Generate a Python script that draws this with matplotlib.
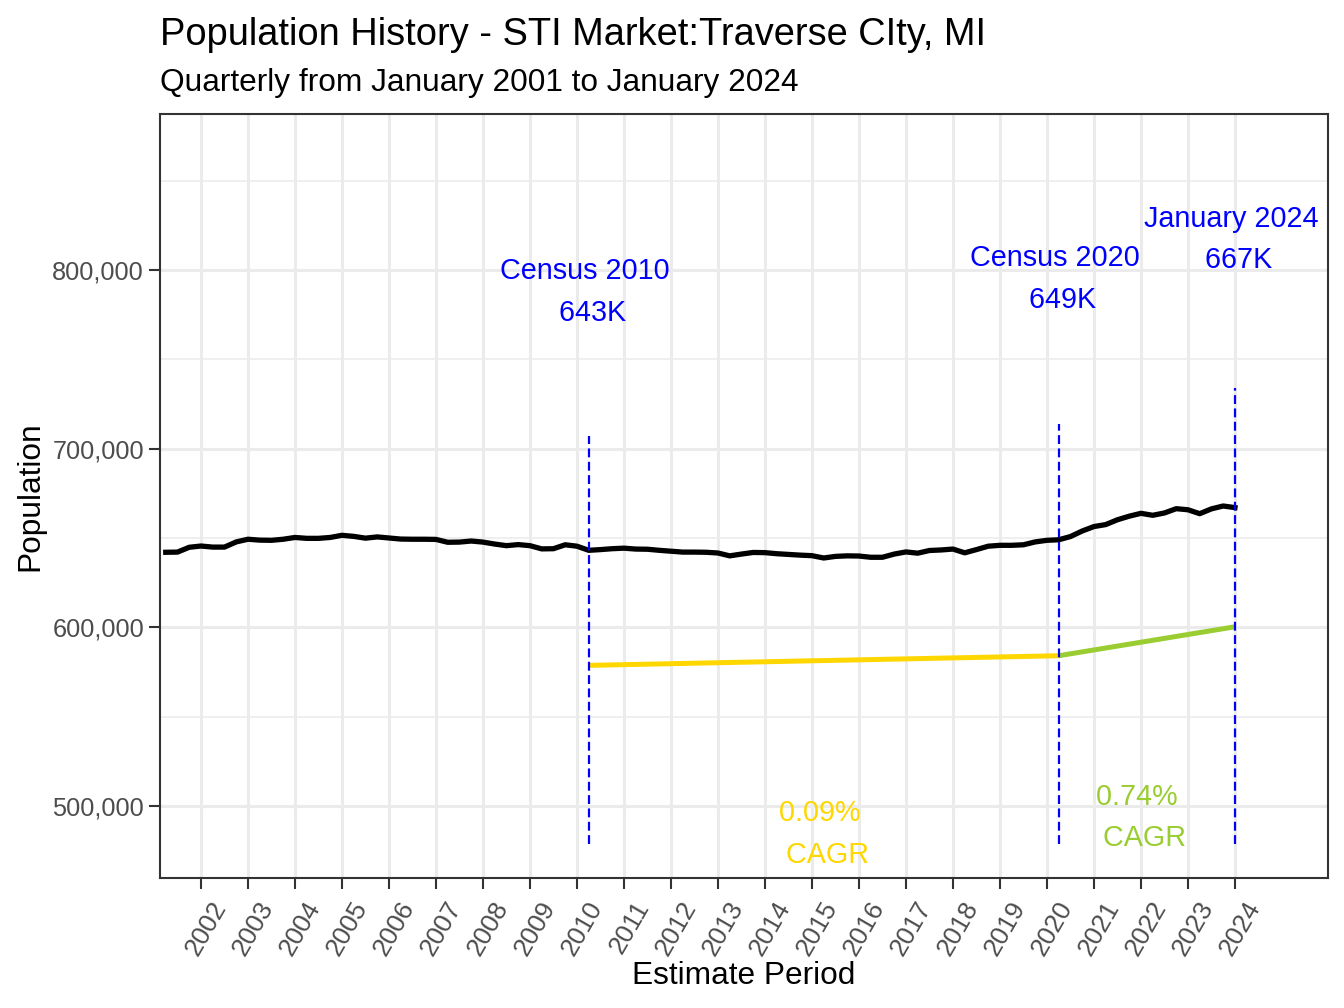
import numpy as np
import pandas as pd
import matplotlib
matplotlib.use("Agg")
import matplotlib.pyplot as plt
import matplotlib.transforms as mtransforms
from matplotlib import ticker

plt.rcParams['font.family'] = ['Liberation Sans', 'DejaVu Sans']

# quarterly estimates, 2001 Q2 .. 2024 Q1
quarters = pd.period_range("2001Q2", "2024Q1", freq="Q")
population = [
    642000, 642100, 644800,
    645500, 644900, 644900, 647800,
    649300, 648800, 648700, 649300,
    650300, 649800, 649800, 650300,
    651500, 650900, 649900, 650600,
    650000, 649400, 649300, 649300,
    649200, 647600, 647700, 648300,
    647700, 646600, 645700, 646300,
    645700, 643900, 644000, 646200,
    645400, 643100, 643500, 644000,
    644300, 643800, 643700, 643100,
    642600, 642100, 642100, 642000,
    641600, 640000, 641000, 641900,
    641800, 641200, 640800, 640400,
    640100, 638800, 639700, 640000,
    639900, 639200, 639200, 641000,
    642200, 641500, 643000, 643300,
    643800, 641700, 643500, 645400,
    645900, 645900, 646200, 647800,
    648700, 649000, 650800, 653900,
    656400, 657500, 660200, 662200,
    663800, 662700, 664000, 666400,
    665800, 663600, 666300, 667900,
    667000,
]
x = quarters.year + (quarters.quarter - 1) / 4

# census / latest reference points
census_x = [2010.25, 2020.25, 2024.0]
census_pop = [643000, 649000, 667000]
census_names = ["Census 2010", "Census 2020", "January 2024"]
census_short = ["643K", "649K", "667K"]
cagr_labels = ["0.09%", "0.74%"]
cagr_x = [2015.25, 2022.0]
cagr_colors = ["gold", "yellowgreen"]

fig = plt.figure(figsize=(13.44, 10.08), dpi=100)
ax = fig.add_axes([160 / 1344, 130 / 1008, 1168 / 1344, 764 / 1008])

ax.plot(x, population, color="black", lw=3.8, zorder=3)

# CAGR segments drawn at 90% of the reference values
for i in range(2):
    xs = census_x[i:i + 2]
    ys = [0.9 * p for p in census_pop[i:i + 2]]
    ax.plot(xs, ys, color=cagr_colors[i], lw=3.6, solid_capstyle="butt", zorder=3)
    ax.text(cagr_x[i], 0.75 * np.mean(census_pop[i:i + 2]),
            f"{cagr_labels[i]} \n CAGR", color=cagr_colors[i],
            ha="center", va="center", fontsize=20.7, linespacing=1.62)

for cx, cp, name, short in zip(census_x, census_pop, census_names, census_short):
    ax.plot([cx, cx], [479000, 1.1 * cp], color="blue", lw=1.6,
            dashes=(4, 2), zorder=4)
    ax.text(cx, 1.225 * cp, f"{name} \n {short}", color="blue",
            ha="center", va="center", fontsize=20.7, linespacing=1.62)

ax.set_xlim(2001.128, 2025.98)
ax.set_ylim(459700, 887300)
ax.set_xticks(range(2002, 2025))
ax.set_yticks([500000, 600000, 700000, 800000])
ax.set_yticks([550000, 650000, 750000, 850000], minor=True)
ax.yaxis.set_major_formatter(ticker.FuncFormatter(lambda v, pos: f"{int(v):,}"))

ax.grid(which="major", color="#EBEBEB", lw=2.2, zorder=0)
ax.grid(which="minor", axis="y", color="#EBEBEB", lw=1.1, zorder=0)
ax.set_axisbelow(True)
ax.tick_params(axis="both", which="major", length=8, width=1.5, color="#333333",
               labelcolor="#4D4D4D", labelsize=18.8)
ax.tick_params(axis="y", which="major", labelsize=18.3)
ax.tick_params(axis="y", which="minor", length=0)
for s in ax.spines.values():
    s.set_color("#333333")
    s.set_linewidth(1.5)

ax.set_xticklabels([str(y) for y in range(2002, 2025)], rotation=60,
                   ha="right", va="top", rotation_mode="anchor")
shift = mtransforms.ScaledTranslation(9 / 100, -3 / 100, fig.dpi_scale_trans)
for lbl in ax.get_xticklabels():
    lbl.set_transform(lbl.get_transform() + shift)

fig.text(160 / 1344, 1 - 45 / 1008, "Population History - STI Market:Traverse CIty, MI",
         fontsize=27.4, ha="left", va="baseline")
fig.text(160 / 1344, 1 - 91 / 1008, "Quarterly from January 2001 to January 2024",
         fontsize=22.8, ha="left", va="baseline")
fig.text(744 / 1344, 1 - 976 / 1008, "Estimate Period", fontsize=22.8,
         ha="center", va="center")
fig.text(30 / 1344, 1 - 496 / 1008, "Population", fontsize=22.8, rotation=90,
         ha="center", va="center")

fig.savefig("out.png", dpi=100)
